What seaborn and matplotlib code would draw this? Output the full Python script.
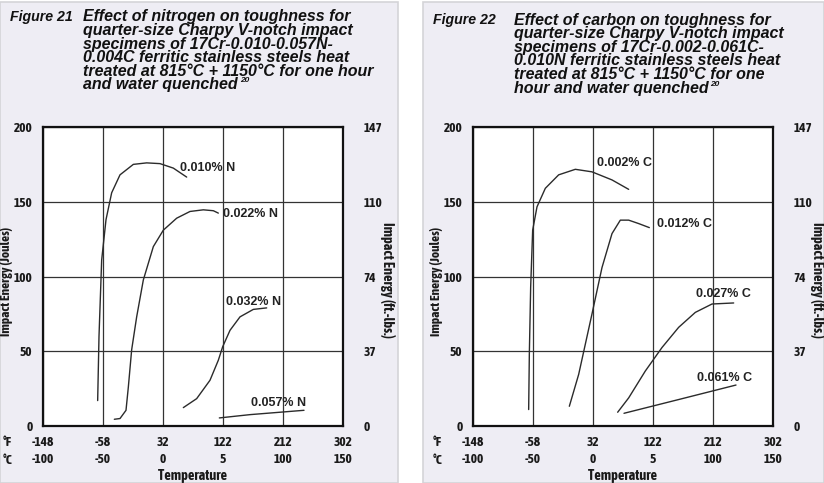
import numpy as np
import pandas as pd
import matplotlib
matplotlib.use("Agg")
import matplotlib.pyplot as plt
from matplotlib import font_manager
from matplotlib.patches import Rectangle
import seaborn as sns

# ---- data (x in deg F, y in Joules) ----
F_TICKS = [-148, -58, 32, 122, 212, 302]
C_TICKS = ["-100", "-50", "0", "5", "100", "150"]
J_TICKS = [0, 50, 100, 150, 200]
FTLB_TICKS = ["0", "37", "74", "110", "147"]

n010_x = [-66, -64, -60, -53.5, -45, -32.5, -12.5, 7.5, 27.5, 47.5, 67.5]
n010_y = [17, 60, 111, 138, 156, 168, 175, 176, 175.5, 172.5, 166.5]
n022_x = [-41, -32.5, -23.5, -20, -15, -7.5, 2.5, 17.5, 32.5, 52.5, 72.5, 92.5, 107.5, 115]
n022_y = [4.5, 5, 10.5, 26, 51, 73, 97.7, 120, 131, 139, 143.5, 144.6, 144, 142.4]
n032_x = [62.5, 82.5, 102.5, 115, 121.5, 132.5, 147.5, 167.5, 187.5]
n032_y = [12.3, 18.3, 30.6, 44, 53, 64, 73, 78, 79]
n057_x = [116.5, 162.5, 243.5]
n057_y = [5.4, 7.6, 10.5]

c002_x = [-64.5, -63.5, -61.5, -58.5, -52, -39.5, -19.5, 5.5, 30.5, 60.5, 85.5]
c002_y = [11, 48, 93, 131, 146.6, 159, 168, 171.7, 170, 164.6, 158.3]
c012_x = [-3.5, 10.5, 30.5, 45.5, 60.5, 73, 85.5, 100.5, 116.5]
c012_y = [13.2, 34.5, 75, 106, 128.7, 137.7, 137.7, 135.4, 132.7]
c027_x = [69, 85.5, 110.5, 135.5, 160.5, 185.5, 210.5, 243]
c027_y = [9.2, 18.8, 36.8, 52.5, 66, 76, 81.6, 82.3]
c061_x = [78.5, 160.5, 246.5]
c061_y = [8.5, 17.7, 27.4]

n_labels = ["0.010% N", "0.022% N", "0.032% N", "0.057% N"]
n_label_pos = [(57, 172.5), (122, 142), (126, 83), (164, 15.4)]
c_labels = ["0.002% C", "0.012% C", "0.027% C", "0.061% C"]
c_label_pos = [(38, 176), (128, 135.4), (186, 88.3), (188, 31.8)]

title21 = ["Effect of nitrogen on toughness for",
           "quarter-size Charpy V-notch impact",
           "specimens of 17Cr-0.010-0.057N-",
           "0.004C ferritic stainless steels heat",
           "treated at 815°C + 1150°C for one hour",
           "and water quenched"]
title22 = ["Effect of carbon on toughness for",
           "quarter-size Charpy V-notch impact",
           "specimens of 17Cr-0.002-0.061C-",
           "0.010N ferritic stainless steels heat",
           "treated at 815°C + 1150°C for one",
           "hour and water quenched"]

sns.set_theme(style="white")


def is_bold(f):
    w = f.weight
    if isinstance(w, str):
        w = font_manager.weight_dict.get(w, 400)
    return w >= 600


narrow_bold = sorted({f.name for f in font_manager.fontManager.ttflist
                      if ("Narrow" in f.name or "Condensed" in f.name) and is_bold(f)})
if narrow_bold:
    NARROW, TSIZE, LSIZE = narrow_bold[0], 9.6, 10.3
else:
    NARROW, TSIZE, LSIZE = "Liberation Sans", 8.5, 8.5
plt.rcParams["font.family"] = ["Liberation Sans", "DejaVu Sans"]

W, H = 824, 483
fig = plt.figure(figsize=(W / 100, H / 100), dpi=100)
fig.patch.set_facecolor("white")
BG = "#eeedf4"
fig.patches.append(Rectangle((0 / W, 0), 398 / W, 1 - 2 / H, transform=fig.transFigure,
                             facecolor=BG, edgecolor="#d4d4d8", lw=1.2, zorder=-10))
fig.patches.append(Rectangle((423 / W, 0), (W - 423) / W, 1 - 2 / H, transform=fig.transFigure,
                             facecolor=BG, edgecolor="#d4d4d8", lw=1.2, zorder=-10))

tick_kw = dict(fontfamily=NARROW, fontweight="bold", fontsize=TSIZE, color="#1a1a1a")
lab_kw = dict(fontfamily=NARROW, fontweight="bold", fontsize=LSIZE, color="#1a1a1a")


def px(x, y):
    return x / W, 1 - y / H


def draw_panel(left, curves, labels, label_pos):
    ax = fig.add_axes([left / W, 1 - 426 / H, 300 / W, 299 / H])
    ax.set_facecolor("white")
    for name, (xs, ys) in curves.items():
        df = pd.DataFrame({"F": xs, "J": ys})
        sns.lineplot(data=df, x="F", y="J", ax=ax, color="#2b2b2b", lw=1.0, sort=False)
    for lab, (lx, ly) in zip(labels, label_pos):
        ax.text(lx, ly, lab, fontsize=9, fontweight="bold", color="#222222",
                ha="left", va="center")
    ax.set_xlim(-148, 302)
    ax.set_ylim(0, 200)
    ax.set_xticks(F_TICKS)
    ax.set_xticklabels([f"{f}\n{c}" for f, c in zip(F_TICKS, C_TICKS)],
                       linespacing=1.4, **tick_kw)
    ax.set_yticks(J_TICKS)
    ax.set_yticklabels([str(j) for j in J_TICKS], **tick_kw)
    ax.set_yticks([50, 100, 150], minor=True)
    ax.tick_params(axis="x", length=0, pad=7)
    ax.tick_params(axis="y", which="major", length=0, pad=7.5)
    ax.tick_params(axis="y", which="minor", left=True, length=5, width=1, color="#333333")
    ax.grid(True, which="major", color="#333333", lw=0.9)
    for s in ax.spines.values():
        s.set_color("#111111")
        s.set_linewidth(1.6)
    ax.set_xlabel("")
    ax.set_ylabel("")

    ax2 = ax.twinx()
    ax2.set_ylim(0, 200)
    ax2.set_yticks(J_TICKS)
    ax2.set_yticklabels(FTLB_TICKS, **tick_kw)
    ax2.set_yticks([50, 100, 150], minor=True)
    ax2.tick_params(axis="y", which="major", length=0, pad=15)
    ax2.tick_params(axis="y", which="minor", right=True, length=11, width=1, color="#333333")
    for s in ax2.spines.values():
        s.set_visible(False)

    # axis titles and the deg F / deg C row names
    fig.text(*px(left + 150, 476), "Temperature", ha="center", va="center", **lab_kw)
    fig.text(*px(left - 36.5, 281), "Impact Energy (Joules)", ha="center", va="center",
             rotation=90, fontfamily=NARROW, fontweight="bold", fontsize=9.6, color="#1a1a1a")
    fig.text(*px(left + 345, 280), "Impact Energy (ft.-lbs.)", ha="center", va="center",
             rotation=270, **lab_kw)
    fig.text(*px(left - 40, 443), "°F", ha="left", va="center", **tick_kw)
    fig.text(*px(left - 40, 461), "°C", ha="left", va="center", **tick_kw)
    return ax


def draw_title(x_fig, x_text, y0, fig_label, lines):
    kw = dict(fontweight="bold", fontstyle="italic", color="#111111", va="center")
    fig.text(*px(x_fig, y0), fig_label, ha="left", fontsize=10.2, **kw)
    last = None
    for i, line in enumerate(lines):
        last = fig.text(*px(x_text, y0 + i * 13.6), line, ha="left", fontsize=11.5, **kw)
    return last, y0 + (len(lines) - 1) * 13.6


draw_panel(43, {"a": (n010_x, n010_y), "b": (n022_x, n022_y),
                "c": (n032_x, n032_y), "d": (n057_x, n057_y)}, n_labels, n_label_pos)
draw_panel(473, {"a": (c002_x, c002_y), "b": (c012_x, c012_y),
                 "c": (c027_x, c027_y), "d": (c061_x, c061_y)}, c_labels, c_label_pos)

t1, yl1 = draw_title(10, 83, 17, "Figure 21", title21)
t2, yl2 = draw_title(433, 514, 20, "Figure 22", title22)

fig.canvas.draw()
r = fig.canvas.get_renderer()
for t, yl in ((t1, yl1), (t2, yl2)):
    bb = t.get_window_extent(r)
    fig.text((bb.x1 + 2) / W, 1 - (yl - 4) / H, "20", fontsize=6, fontweight="bold",
             fontstyle="italic", color="#111111", va="center", ha="left")

fig.savefig("out.png", dpi=100)
